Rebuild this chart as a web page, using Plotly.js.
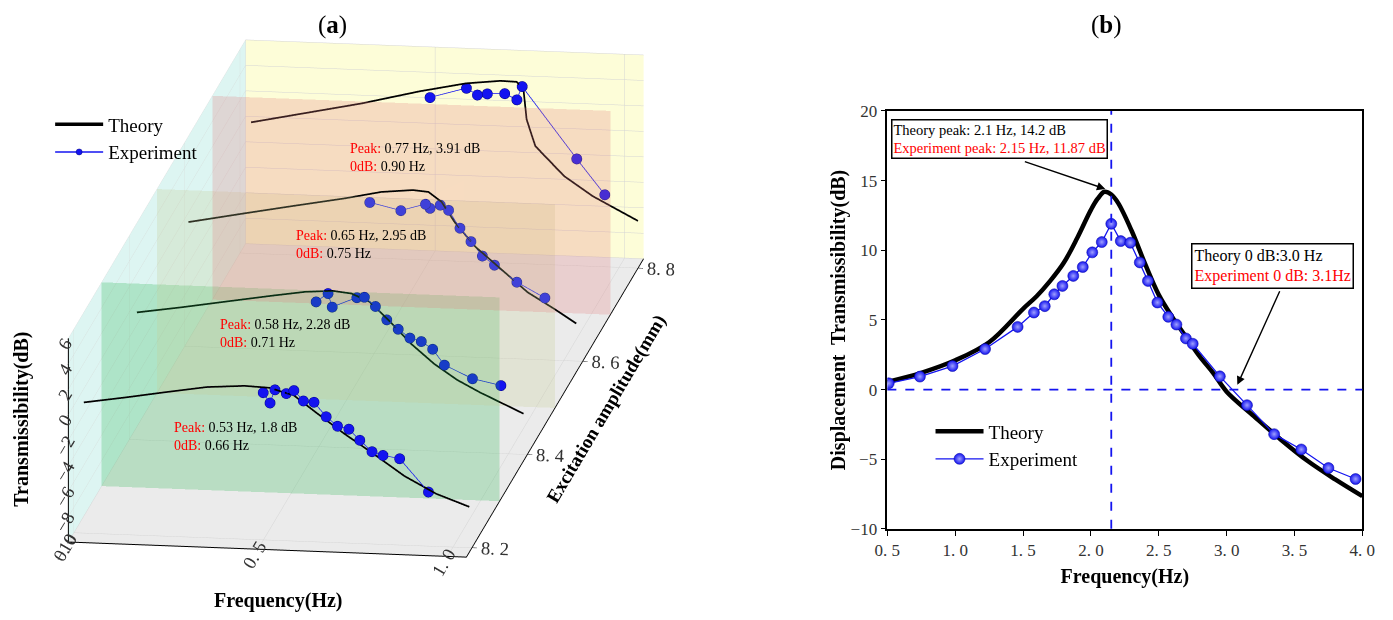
<!DOCTYPE html>
<html>
<head>
<meta charset="utf-8">
<script src="https://cdn.plot.ly/plotly-3.0.1.min.js"></script>
<style>
  body { margin: 0; background: #fff; }
  #chart { width: 1393px; height: 620px; }
</style>
</head>
<body>
<div id="chart"></div>
<script>
// ---- panel (a): theory curves, one per excitation amplitude (mm) ----
var curveAmps = [8.2, 8.4, 8.6, 8.8];
var planeAmps = [8.3, 8.5, 8.7];

var thFreq82 = [0.026, 0.137, 0.24, 0.35, 0.45, 0.515, 0.58, 0.64, 0.714, 0.788, 0.872, 0.956, 1.043];
var thDb82   = [0.26, 0.78, 1.3, 1.83, 2.04, 1.96, 1.44, 0.13, -1.44, -2.87, -4.57, -5.87, -6.79];
var thFreq84 = [0.02, 0.137, 0.258, 0.38, 0.465, 0.537, 0.586, 0.634, 0.683, 0.743, 0.804, 0.865, 0.925, 1.04];
var thDb84   = [0.0, 0.53, 1.13, 1.73, 2.12, 2.27, 2.12, 1.52, 0.17, -1.64, -3.15, -4.35, -5.26, -6.8];
var thFreq86 = [0.01, 0.147, 0.285, 0.423, 0.519, 0.602, 0.643, 0.678, 0.712, 0.767, 0.836, 0.905, 0.974, 1.033];
var thDb86   = [-0.24, 0.55, 1.33, 2.09, 2.7, 2.94, 2.84, 2.09, 0.55, -1.33, -3.04, -4.75, -5.95, -7.05];
var thFreq88 = [0.029, 0.169, 0.32, 0.474, 0.596, 0.687, 0.73, 0.748, 0.756, 0.779, 0.855, 0.931, 1.05];
var thDb88   = [0.29, 1.16, 2.1, 3.23, 3.99, 4.29, 4.26, 3.61, 1.34, -0.73, -3.0, -4.5, -6.3];

// ---- panel (a): experiment points ----
var exFreq82 = [0.499, 0.517, 0.53, 0.56, 0.58, 0.605, 0.633, 0.665, 0.695, 0.725, 0.754, 0.786, 0.815, 0.859, 0.935];
var exDb82   = [1.57, 0.78, 1.83, 1.57, 1.83, 1.04, 0.97, -0.13, -0.84, -1.04, -1.88, -2.74, -3.0, -3.21, -5.74];
var exFreq84 = [0.4925, 0.524, 0.535, 0.6, 0.62, 0.649, 0.679, 0.709, 0.74, 0.77, 0.8, 0.831, 0.905, 0.98];
var exDb84   = [1.37, 2.06, 1.01, 1.82, 1.88, 1.19, 0.17, -0.53, -1.19, -1.43, -2.0, -3.21, -4.2, -4.65];
var exFreq86 = [0.488, 0.57, 0.635, 0.647, 0.674, 0.696, 0.726, 0.755, 0.785, 0.817, 0.876, 0.95];
var exDb86   = [1.85, 1.3, 1.88, 1.57, 1.85, 1.47, 0.1, -0.92, -2.02, -2.7, -3.97, -5.13];
var exFreq88 = [0.501, 0.597, 0.626, 0.652, 0.698, 0.73, 0.744, 0.888, 0.962];
var exDb88   = [2.78, 3.62, 3.12, 3.24, 3.31, 2.86, 3.92, -1.6, -4.33];

var peakLabels = [
  ['0.53 Hz, 1.8 dB', '0.66 Hz'],
  ['0.58 Hz, 2.28 dB', '0.71 Hz'],
  ['0.65 Hz, 2.95 dB', '0.75 Hz'],
  ['0.77 Hz, 3.91 dB', '0.90 Hz']
];

// ---- panel (b) ----
var theoryFreqB = [0.5, 0.75, 1.0, 1.25, 1.5, 1.6, 1.7, 1.8, 1.9, 2.0, 2.05, 2.1, 2.15, 2.2, 2.3, 2.4, 2.5, 2.6, 2.7, 2.8, 2.9, 3.0, 3.2, 3.4, 3.6, 3.8, 4.0];
var theoryDbB   = [0.55, 1.2, 2.1, 3.4, 5.8, 6.7, 7.8, 9.1, 10.9, 12.9, 13.7, 14.2, 14.0, 13.4, 11.4, 9.0, 6.8, 5.2, 3.8, 2.4, 1.2, -0.15, -1.9, -3.6, -5.15, -6.45, -7.65];
var expFreqB = [0.51, 0.74, 0.98, 1.22, 1.46, 1.58, 1.66, 1.73, 1.79, 1.87, 1.94, 2.01, 2.08, 2.15, 2.22, 2.29, 2.36, 2.42, 2.49, 2.57, 2.63, 2.70, 2.75, 2.95, 3.15, 3.35, 3.55, 3.75, 3.95];
var expDbB   = [0.45, 0.93, 1.69, 2.91, 4.5, 5.53, 5.99, 6.84, 7.44, 8.16, 8.8, 9.85, 10.59, 11.9, 10.66, 10.54, 9.13, 7.8, 6.25, 5.22, 4.67, 3.67, 3.29, 0.95, -1.12, -3.2, -4.3, -5.63, -6.42];
var expPeakFreq = 2.15;

var serif = 'Liberation Serif, Times New Roman, serif';
var blue = '#1414f0';

var thFreqA = [thFreq82, thFreq84, thFreq86, thFreq88];
var thDbA = [thDb82, thDb84, thDb86, thDb88];
var exFreqA = [exFreq82, exFreq84, exFreq86, exFreq88];
var exDbA = [exDb82, exDb84, exDb86, exDb88];

var freqRange = [0, 1.05];
var ampRange = [8.18, 8.82];
var dbRange = [-10, 6];

var data = [];

// translucent amplitude planes (low opacity so curves behind stay dark)
var planeColors = ['#23b34b', '#c3c98f', '#e37b7b'];
for (var p = 0; p < planeAmps.length; p++) {
    var a = planeAmps[p];
    data.push({
        type: 'mesh3d',
        x: [freqRange[0], freqRange[1], freqRange[1], freqRange[0]],
        y: [a, a, a, a],
        z: [dbRange[0], dbRange[0], dbRange[1], dbRange[1]],
        i: [0, 0], j: [1, 2], k: [2, 3],
        color: planeColors[p],
        opacity: 0.25,
        flatshading: true,
        lighting: {ambient: 1, diffuse: 0, specular: 0},
        hoverinfo: 'skip',
        showlegend: false,
        scene: 'scene'
    });
}

for (var c = 0; c < curveAmps.length; c++) {
    var amp = curveAmps[c];
    data.push({
        type: 'scatter3d',
        mode: 'lines',
        x: thFreqA[c],
        y: thFreqA[c].map(function () { return amp; }),
        z: thDbA[c],
        line: {color: 'black', width: 3.5},
        name: 'Theory',
        legendgroup: 'th',
        showlegend: c === 0,
        legend: 'legend',
        scene: 'scene'
    });
    data.push({
        type: 'scatter3d',
        mode: 'lines+markers',
        x: exFreqA[c],
        y: exFreqA[c].map(function () { return amp; }),
        z: exDbA[c],
        line: {color: blue, width: 1.5},
        marker: {color: blue, size: 6, line: {color: '#000080', width: 0.5}},
        name: 'Experiment',
        legendgroup: 'ex',
        showlegend: c === 0,
        legend: 'legend',
        scene: 'scene'
    });
}

// panel (b) traces
data.push({
    type: 'scatter',
    mode: 'lines',
    x: theoryFreqB,
    y: theoryDbB,
    line: {color: 'black', width: 4.5, shape: 'spline'},
    name: 'Theory',
    xaxis: 'x', yaxis: 'y',
    legend: 'legend2'
});
data.push({
    type: 'scatter',
    mode: 'lines+markers',
    x: expFreqB,
    y: expDbB,
    line: {color: blue, width: 1.3},
    marker: {color: blue, size: 11, gradient: {type: 'radial', color: '#9fa0ff'}, line: {color: '#0000a0', width: 0.5}},
    name: 'Experiment',
    xaxis: 'x', yaxis: 'y',
    legend: 'legend2'
});

// peak / 0 dB notes, one per amplitude
var sceneAnn = [];
var annFreq = [0.26, 0.235, 0.29, 0.285];
var annDb = [-2.2, -1.45, -1.7, -2.2];
for (var c = 0; c < curveAmps.length; c++) {
    sceneAnn.push({
        x: annFreq[c], y: curveAmps[c], z: annDb[c],
        text: '<span style="color:red">Peak:</span> ' + peakLabels[c][0] +
              '<br><span style="color:red">0dB:</span> ' + peakLabels[c][1],
        showarrow: false,
        xanchor: 'left',
        align: 'left',
        font: {family: serif, size: 14, color: 'black'}
    });
}

function axis3d(title, range, tickvals, ticktext, bg) {
    return {
        title: {text: title ? '<b>' + title + '</b>' : '', font: {family: serif, size: 19, color: 'black'}},
        range: range,
        tickvals: tickvals,
        ticktext: ticktext,
        tickfont: {family: serif, size: 15, color: '#333'},
        showbackground: true,
        backgroundcolor: bg,
        gridcolor: '#d4d4d4',
        showline: true,
        linecolor: 'black',
        linewidth: 2,
        ticks: 'outside',
        tickcolor: 'black',
        showspikes: false,
        zeroline: false
    };
}

var layout = {
    width: 1393,
    height: 620,
    margin: {l: 0, r: 0, t: 0, b: 0},
    paper_bgcolor: 'white',
    plot_bgcolor: 'white',
    font: {family: serif, color: 'black'},
    scene: {
        domain: {x: [0.009, 0.5015], y: [0.054, 0.984]},
        xaxis: axis3d('', freqRange, [0, 0.5, 1.0], ['0. 0', '0. 5', '1. 0'], '#ddf5f2'),
        yaxis: axis3d('Excitation amplitude(mm)', ampRange, [8.2, 8.4, 8.6, 8.8], ['8. 2', '8. 4', '8. 6', '8. 8'], '#fdfdd8'),
        zaxis: axis3d('', dbRange, [-10, -8, -6, -4, -2, 0, 2, 4, 6], ['−10', '−8', '−6', '−4', '−2', '0', '2', '4', '6'], '#ebebeb'),
        aspectmode: 'manual',
        aspectratio: {x: 1.395, y: 4.14, z: 0.73},
        camera: {
            projection: {type: 'orthographic'},
            eye: {x: 1.5, y: -10, z: 2.64},
            up: {x: 0, y: 0, z: 1},
            center: {x: 0, y: 0, z: 0}
        },
        annotations: sceneAnn
    },
    xaxis: {
        domain: [0.637, 0.978],
        anchor: 'y',
        range: [0.5, 4.0],
        tickvals: [0.5, 1.0, 1.5, 2.0, 2.5, 3.0, 3.5, 4.0],
        ticktext: ['0. 5', '1. 0', '1. 5', '2. 0', '2. 5', '3. 0', '3. 5', '4. 0'],
        tickfont: {family: serif, size: 17, color: '#333'},
        ticks: 'outside', ticklen: 5, tickcolor: 'black',
        showline: true, mirror: true, linecolor: 'black', linewidth: 1.5,
        showgrid: false, zeroline: false,
        title: {text: '<b>Frequency(Hz)</b>', font: {family: serif, size: 20}, standoff: 10}
    },
    yaxis: {
        domain: [0.147, 0.821],
        anchor: 'x',
        range: [-10, 20],
        tickvals: [-10, -5, 0, 5, 10, 15, 20],
        ticktext: ['−10', '−5', '0', '5', '10', '15', '20'],
        tickfont: {family: serif, size: 17, color: '#333'},
        ticks: 'outside', ticklen: 5, tickcolor: 'black',
        showline: true, mirror: true, linecolor: 'black', linewidth: 1.5,
        showgrid: false, zeroline: false,
        title: {text: '<b>Displacement  Transmissibility(dB)</b>', font: {family: serif, size: 20}, standoff: 0}
    },
    shapes: [
        {type: 'line', xref: 'x', yref: 'y domain', x0: expPeakFreq, x1: expPeakFreq, y0: 0, y1: 1,
         line: {color: blue, width: 1.8, dash: 'dash'}},
        {type: 'line', xref: 'x domain', yref: 'y', x0: 0, x1: 1, y0: 0, y1: 0,
         line: {color: blue, width: 1.8, dash: 'dash'}}
    ],
    annotations: [
        {xref: 'paper', yref: 'paper', x: 0.227, y: 0.985, text: '(<b>a</b>)', showarrow: false,
         font: {family: serif, size: 25}},
        {xref: 'paper', yref: 'paper', x: 0.807, y: 0.985, text: '(<b>b</b>)', showarrow: false,
         font: {family: serif, size: 25}},
        // axis titles of panel (a)
        {xref: 'paper', yref: 'paper', x: 0.2, y: 0.031, xanchor: 'center', yanchor: 'middle',
         text: '<b>Frequency(Hz)</b>', showarrow: false, font: {family: serif, size: 20}},
        {xref: 'paper', yref: 'paper', x: 0.0158, y: 0.323, xanchor: 'center', yanchor: 'middle',
         text: '<b>Transmissibility(dB)</b>', showarrow: false, textangle: -90, font: {family: serif, size: 20}},
        {xref: 'x', yref: 'y', x: 0.53, y: 19.45, xanchor: 'left', yanchor: 'top', align: 'left',
         text: 'Theory peak: 2.1 Hz, 14.2 dB<br><span style="color:red">Experiment peak: 2.15 Hz, 11.87 dB</span>',
         showarrow: false, bgcolor: 'white', bordercolor: 'black', borderwidth: 1.5, borderpad: 1,
         font: {family: serif, size: 14.5, color: 'black'}},
        {xref: 'x', yref: 'y', x: 2.106, y: 14.4, axref: 'x', ayref: 'y', ax: 1.502, ay: 16.4,
         text: '', showarrow: true, arrowhead: 2, arrowsize: 1.2, arrowwidth: 1.4, arrowcolor: 'black'},
        {xref: 'x', yref: 'y', x: 2.736, y: 10.52, xanchor: 'left', yanchor: 'top', align: 'left',
         text: 'Theory 0 dB:3.0 Hz<br><span style="color:red">Experiment 0 dB: 3.1Hz</span>',
         showarrow: false, bgcolor: 'white', bordercolor: 'black', borderwidth: 1.5, borderpad: 2,
         font: {family: serif, size: 16, color: 'black'}},
        {xref: 'x', yref: 'y', x: 3.079, y: 0.34, axref: 'x', ayref: 'y', ax: 3.396, ay: 7.16,
         text: '', showarrow: true, arrowhead: 2, arrowsize: 1.2, arrowwidth: 1.4, arrowcolor: 'black'}
    ],
    legend: {
        x: 0.036, y: 0.83, xanchor: 'left', yanchor: 'top', itemwidth: 48,
        bgcolor: 'rgba(0,0,0,0)', font: {family: serif, size: 19}, tracegroupgap: 0
    },
    legend2: {
        x: 0.668, y: 0.335, xanchor: 'left', yanchor: 'top', itemwidth: 48,
        bgcolor: 'rgba(0,0,0,0)', font: {family: serif, size: 19}, tracegroupgap: 0
    },
    showlegend: true
};

Plotly.newPlot('chart', data, layout, {displayModeBar: false});
</script>
</body>
</html>
